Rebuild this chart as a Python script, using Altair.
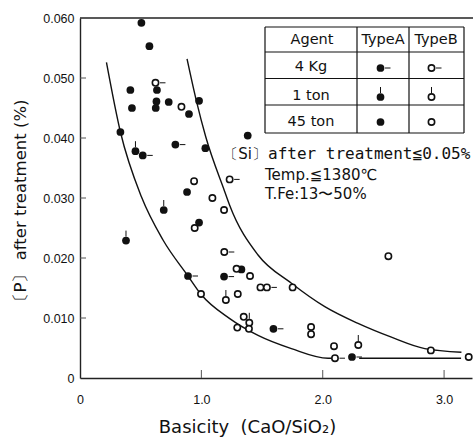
import altair as alt
import pandas as pd

# ---- Type A agent (filled symbols): basicity, [P] after treatment, agent batch ----
a_basicity = [0.506, 0.572, 0.415, 0.634, 0.630, 0.731, 0.428, 0.624, 0.898, 0.981,
              0.333, 0.457, 0.517, 0.786, 1.033, 1.382, 0.882, 0.690, 0.981, 0.379,
              0.890, 1.187, 1.330, 1.594, 2.241]
a_phos = [0.0592, 0.0553, 0.0480, 0.0480, 0.0461, 0.0460, 0.0450, 0.0450, 0.0440, 0.0462,
          0.0410, 0.0378, 0.0371, 0.0389, 0.0383, 0.0404, 0.0310, 0.0280, 0.0259, 0.0229,
          0.0170, 0.0169, 0.0181, 0.0082, 0.0035]
a_agent = ["45 ton"] * 11 + ["1 ton", "4 Kg", "4 Kg", "45 ton", "45 ton", "45 ton", "1 ton",
                             "45 ton", "1 ton", "4 Kg", "4 Kg", "45 ton", "4 Kg", "4 Kg"]

# ---- Type B agent (open symbols) ----
b_basicity = [0.622, 0.836, 0.940, 1.233, 1.091, 1.187, 0.945, 1.189, 1.290, 1.401,
              1.487, 1.540, 1.752, 0.997, 1.300, 1.202, 1.349, 1.395, 1.296, 1.392,
              1.904, 1.904, 2.093, 2.293, 2.101, 2.541, 2.891, 3.203]
b_phos = [0.0492, 0.0452, 0.0328, 0.0331, 0.0300, 0.0280, 0.0250, 0.0210, 0.0182, 0.0170,
          0.0151, 0.0151, 0.0151, 0.0140, 0.0140, 0.0130, 0.0102, 0.0092, 0.0084, 0.0082,
          0.0085, 0.0073, 0.0053, 0.0055, 0.0033, 0.0203, 0.0046, 0.0035]
b_agent = ["4 Kg", "45 ton", "45 ton", "4 Kg", "45 ton", "45 ton", "45 ton", "4 Kg", "45 ton", "45 ton",
           "45 ton", "4 Kg", "45 ton", "45 ton", "45 ton", "1 ton", "45 ton", "1 ton", "45 ton", "45 ton",
           "45 ton", "45 ton", "45 ton", "1 ton", "4 Kg", "45 ton", "45 ton", "45 ton"]

# ---- band boundaries ----
lower_x = [0.218, 0.333, 0.506, 0.684, 0.890, 0.995, 1.234, 1.467, 1.742, 2.044, 2.08]
lower_y = [0.0526, 0.0410, 0.0302, 0.0230, 0.0170, 0.0140, 0.0099, 0.0071, 0.0049, 0.0033, 0.0033]
tail_x = [2.30, 3.14]
tail_y = [0.0033, 0.0033]
upper_x = [0.882, 0.959, 1.036, 1.192, 1.233, 1.467, 1.742, 2.017, 2.291, 2.566, 2.841, 3.143]
upper_y = [0.0532, 0.0462, 0.0402, 0.0311, 0.0288, 0.0205, 0.0158, 0.0119, 0.0091, 0.0068, 0.0049, 0.0043]

y_tick_values = [0.0, 0.01, 0.02, 0.03, 0.04, 0.05, 0.06]
x_tick_values = [0, 1, 2, 3]

INK = "#111111"
W, H = 392, 360
DOT, RING = 60, 40

pts = pd.concat([
    pd.DataFrame({"basicity": a_basicity, "phos": a_phos, "agent": a_agent, "type": "A"}),
    pd.DataFrame({"basicity": b_basicity, "phos": b_phos, "agent": b_agent, "type": "B"}),
], ignore_index=True)
curves = pd.concat([
    pd.DataFrame({"basicity": lower_x, "phos": lower_y, "seg": "lower"}),
    pd.DataFrame({"basicity": tail_x, "phos": tail_y, "seg": "tail"}),
    pd.DataFrame({"basicity": upper_x, "phos": upper_y, "seg": "upper"}),
], ignore_index=True)

xs = alt.Scale(domain=[0, 3.23], nice=False, zero=False)
ys = alt.Scale(domain=[0, 0.06], nice=False, zero=False)

x_axis = alt.Axis(values=x_tick_values, labelExpr="datum.value == 0 ? '0' : format(datum.value, '.1f')",
                  ticks=False, tickSize=0, grid=False, labelFlush=False, labelOverlap=False,
                  domainColor="#222", domainWidth=1.4, labelPadding=15,
                  labelFont="Liberation Sans", labelFontSize=12.5, labelColor=INK,
                  title="Basicity\u00a0\u00a0(CaO/SiO\u2082)", titleFont="DejaVu Sans", titleFontSize=18,
                  titleFontWeight="normal", titleColor=INK, titleX=167, titleY=54,
                  titleAlign="center", titleBaseline="alphabetic")
y_axis = alt.Axis(values=y_tick_values, labelExpr="datum.value == 0 ? '0' : format(datum.value, '.3f')",
                  ticks=False, tickSize=0, grid=False, labelFlush=False, labelOverlap=False,
                  domainColor="#222", domainWidth=1.4, labelPadding=6,
                  labelFont="Liberation Sans", labelFontSize=12.5, labelColor=INK,
                  title="\u3014P\u3015 after treatment (%)", titleFont="DejaVu Sans", titleFontSize=16.5,
                  titleFontWeight="normal", titleColor=INK, titleAngle=270, titleX=-60, titleY=186,
                  titleAlign="center", titleBaseline="middle")


def X():
    return alt.X("basicity:Q", scale=xs, axis=x_axis)


def Y():
    return alt.Y("phos:Q", scale=ys, axis=y_axis)


lines = alt.Chart(curves).mark_line(color=INK, strokeWidth=1.4, interpolate="monotone").encode(
    x=X(), y=Y(), detail="seg:N")

# small flags: 4 Kg -> dash to the right, 1 ton -> dash on top
flag_right = alt.Chart(pts).transform_filter("datum.agent == '4 Kg'").mark_rule(
    color=INK, strokeWidth=1, xOffset=4.5, x2Offset=10).encode(
    x=X(), x2="basicity:Q", y=Y())
flag_up = alt.Chart(pts).transform_filter("datum.agent == '1 ton'").mark_rule(
    color=INK, strokeWidth=1, yOffset=-4, y2Offset=-10).encode(
    x=X(), y=Y(), y2="phos:Q")

filled = alt.Chart(pts).transform_filter("datum.type == 'A'").mark_circle(
    color=INK, size=DOT, opacity=1).encode(x=X(), y=Y())
hollow = alt.Chart(pts).transform_filter("datum.type == 'B'").mark_point(
    shape="circle", filled=True, fill="white", stroke=INK, strokeWidth=1.6, size=RING, opacity=1).encode(
    x=X(), y=Y())

# inward tick marks
ytk = alt.Chart(pd.DataFrame({"phos": y_tick_values[1:-1]})).mark_rule(color="#555", strokeWidth=1).encode(
    y=Y(), x=alt.value(0), x2=alt.value(6))
xtk = alt.Chart(pd.DataFrame({"basicity": x_tick_values[1:]})).mark_rule(color="#555", strokeWidth=1).encode(
    x=X(), y=alt.value(H), y2=alt.value(H - 8))

one = pd.DataFrame({"k": [0]})


def hline(x1, x2, y, w=1.2, color=INK):
    return alt.Chart(one).mark_rule(color=color, strokeWidth=w).encode(
        x=alt.value(x1), x2=alt.value(x2), y=alt.value(y))


def vline(x, y1, y2, w=1.2, color=INK):
    return alt.Chart(one).mark_rule(color=color, strokeWidth=w).encode(
        x=alt.value(x), y=alt.value(y1), y2=alt.value(y2))


def label(txt, x, y, size=14, font="DejaVu Sans", align="center"):
    return alt.Chart(one).mark_text(text=txt, font=font, fontSize=size, color=INK,
                                    align=align, baseline="middle").encode(
        x=alt.value(x), y=alt.value(y))


def dot(x, y, kind):
    if kind == "A":
        return alt.Chart(one).mark_circle(color=INK, size=DOT, opacity=1).encode(
            x=alt.value(x), y=alt.value(y))
    return alt.Chart(one).mark_point(shape="circle", filled=True, fill="white", stroke=INK,
                                     strokeWidth=1.6, size=RING, opacity=1).encode(
        x=alt.value(x), y=alt.value(y))


top_border = hline(0, W + 1, 0, w=1.4, color="#222")

# legend table
tx = [185, 277, 329, 384]
ty = [9, 34, 60.5, 87, 115]
table = [hline(tx[0], tx[-1], yy) for yy in ty] + [vline(xx, ty[0], ty[-1]) for xx in tx]
table += [label("Agent", 232, 22, size=14.5), label("TypeA", 303, 22, size=14.5),
          label("TypeB", 356, 22, size=14.5)]
rows_y = [49, 78, 104]
for name, yy in zip(["4 Kg", "1 ton", "45 ton"], rows_y):
    table.append(label(name, 231, yy, size=14.5))
colA, colB = 300.5, 351.5
marker_y = [50, 79, 104]
for kind, cx in (("A", colA), ("B", colB)):
    table.append(hline(cx + 4.5, cx + 10, marker_y[0], w=1))
    table.append(vline(cx, marker_y[1] - 4, marker_y[1] - 10, w=1))
    for yy in marker_y:
        table.append(dot(cx, yy, kind))

notes = [
    label("\u3014Si\u3015", 165, 136, size=15),
    label("after treatment\u22660.05%", 188, 136, size=16, font="DejaVu Sans Mono", align="left"),
    label("Temp.\u22661380\u2103", 185, 157, size=15, align="left"),
    label("T.Fe:13\u301c50%", 185, 176, size=15, align="left"),
]

chart = alt.layer(lines, xtk, ytk, top_border, flag_right, flag_up, filled, hollow,
                  *table, *notes).properties(
    width=W, height=H,
    autosize=alt.AutoSizeParams(type="none"),
    padding={"left": 80, "top": 18, "right": 1, "bottom": 60},
).configure_view(stroke=None)

chart.save("out.html", embed_options={"renderer": "svg", "actions": False})
